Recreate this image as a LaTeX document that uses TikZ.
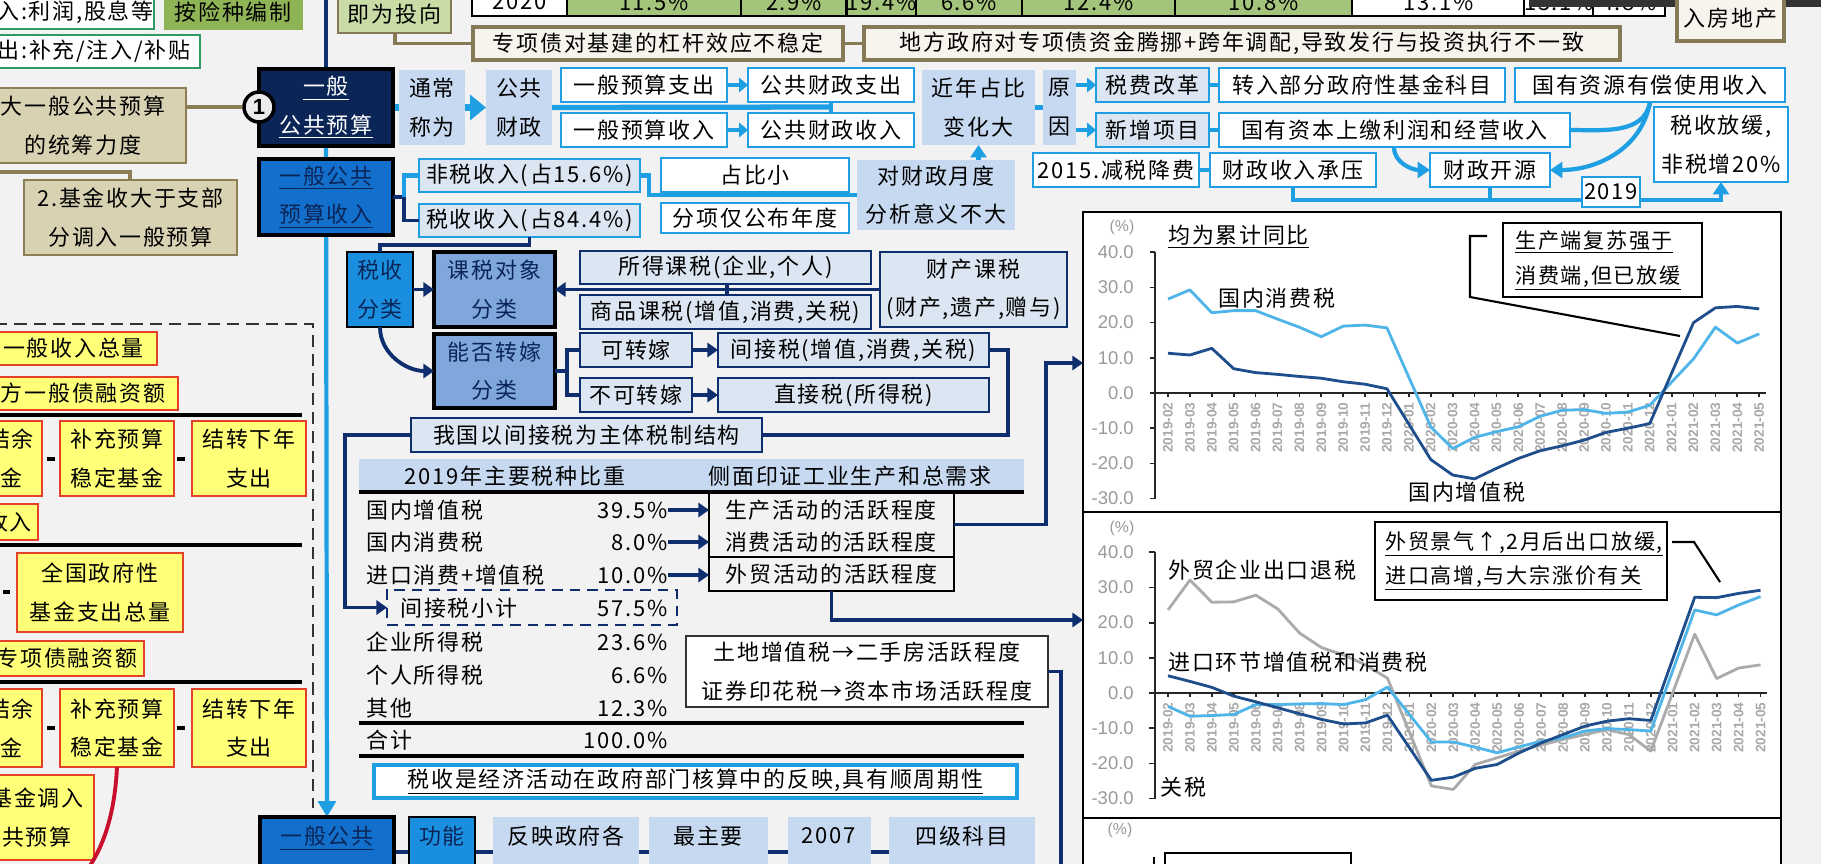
\documentclass[tikz,border=0pt]{standalone}
\usepackage{fontspec}
\setmainfont{Noto Sans CJK SC}[LetterSpace=8]
\newfontfamily\lat{Liberation Sans}
\usetikzlibrary{arrows.meta,calc}
\definecolor{navy}{HTML}{0B2557}
\definecolor{navl}{HTML}{0F2E6E}
\definecolor{lblue}{HTML}{1E9FE3}
\definecolor{lfill}{HTML}{C6D9F0}
\definecolor{pale}{HTML}{DCE6F2}
\definecolor{midblue}{HTML}{1270CC}
\definecolor{brblue}{HTML}{1A8FE0}
\definecolor{clsblue}{HTML}{7FA7DC}
\definecolor{yel}{HTML}{FFFF78}
\definecolor{yelred}{HTML}{E5402A}
\definecolor{tanf}{HTML}{D9D2B2}
\definecolor{tand}{HTML}{8C7F55}
\definecolor{olvd}{HTML}{857A55}
\definecolor{olvf}{HTML}{F6F4EC}
\definecolor{grnf}{HTML}{8FB456}
\definecolor{grnl}{HTML}{C9DCA6}
\definecolor{grnd}{HTML}{2E9B62}
\definecolor{bg}{HTML}{F2F2F2}
\definecolor{serdark}{HTML}{1F4E8C}
\definecolor{serlight}{HTML}{4FB4E8}
\definecolor{sergray}{HTML}{ABABAB}
\definecolor{axgray}{HTML}{9A9A9A}
\definecolor{redc}{HTML}{C8102E}
\definecolor{darkbar}{HTML}{333333}
\definecolor{cellgrn}{HTML}{A3C47A}
\pgfdeclarelayer{back}
\pgfdeclarelayer{mid}
\pgfsetlayers{back,mid,main}
\newcommand\Bx[7]{%
 \pgfmathsetmacro\bxw{(#5)-(#3)}%
 \pgfmathsetmacro\bxh{(#6)-(#4)}%
 \pgfmathsetmacro\bxcx{((#3)+(#5))/2}%
 \pgfmathsetmacro\bxcy{((#4)+(#6))/2}%
 \node[bx,#1,minimum width={\bxw*0.02cm},minimum height={\bxh*0.02cm}] (#2) at (\bxcx,\bxcy) {#7};}
\begin{document}
\begin{tikzpicture}[x=0.02cm,y=-0.02cm, font=\fontsize{12.5}{22}\selectfont,
 bx/.style={align=center,inner sep=0pt,outer sep=0pt},
 grn/.style={draw=grnd,line width=1.2pt,fill=white},
 gfill/.style={fill=grnf,draw=grnf},
 olvg/.style={fill=grnl,draw=olvd,line width=1.5pt},
 olv/.style={fill=olvf,draw=olvd,line width=1.8pt},
 cellw/.style={fill=white,draw=black,line width=1.2pt},
 cellg/.style={fill=cellgrn,draw=black,line width=1.2pt},
 navyb/.style={fill=navy,draw=black,line width=2pt,text=white},
 midb/.style={fill=midblue,draw=black,line width=2pt,text=navy},
 brb/.style={fill=brblue,draw=black,line width=1.5pt,text=navy},
 mbb/.style={fill=clsblue,draw=black,line width=2pt,text=navy},
 lbf/.style={fill=lfill},
 bl/.style={fill=white,draw=lblue,line width=1.4pt},
 blf/.style={fill=pale,draw=lblue,line width=1.4pt},
 tx/.style={fill=pale,draw=navl,line width=1.2pt},
 tanb/.style={fill=tanf,draw=tand,line width=1.4pt},
 ylw/.style={fill=yel,draw=yelred,line width=1.3pt},
 rbx/.style={draw=black,line width=1.2pt},
 thinb/.style={fill=white,draw=black!80,line width=0.8pt},
 cyc/.style={fill=white,draw=lblue,line width=1.8pt},
 dashb/.style={draw=navl,line width=1.5pt,dash pattern=on 6pt off 4pt},
 hdrs/.style={fill=lfill},
 frm/.style={fill=white,draw=black,line width=1.3pt},
 cbx/.style={fill=white,draw=black,line width=1.2pt},
 lbl/.style={draw=lblue,line width=2.4pt},
 lbarr/.style={draw=lblue,line width=2.4pt,-{Triangle[length=7pt,width=9pt]}},
 lbbig/.style={draw=lblue,line width=4pt,-{Triangle[length=9pt,width=14pt]}},
 lbsmall/.style={draw=lblue,line width=2pt,-{Triangle[length=5pt,width=8pt]}},
 nvl/.style={draw=navl,line width=2.2pt},
 navarr/.style={draw=navl,line width=2.2pt,-{Triangle[length=6pt,width=8pt]}},
 tanl/.style={draw=tand,line width=2pt},
 olvl/.style={draw=olvd,line width=2pt},
 ser/.style={line width=1.6pt,line join=round},
 ylab/.style={font=\lat\fontsize{10.5}{11}\selectfont,text=axgray,anchor=east,inner sep=0pt},
 tlab/.style={font=\lat\bfseries\fontsize{7.8}{8}\selectfont,text=axgray!85,rotate=90,anchor=east,inner sep=0pt},
 txt/.style={inner sep=0pt,anchor=west},
 cotxt/.style={inner sep=0pt,anchor=west,font=\fontsize{12}{20}\selectfont},
 ]
\useasboundingbox (0,0) rectangle (1821,863);
\begin{pgfonlayer}{back}
\fill[bg] (-20,-20) rectangle (1841,883);
\end{pgfonlayer}

% ---------------- charts
\Bx{frm}{ch1}{1083}{212}{1781}{512}{}
\Bx{frm}{ch2}{1083}{512}{1781}{818}{}
\Bx{frm}{ch3}{1083}{818}{1781}{900}{}

\begin{scope}[shift={(1168,393)},x=0.438cm,y=0.0704cm]
 \draw[black!85,line width=1pt] (-0.594,40) -- (-0.594,-30);
 \foreach \v in {40,30,...,-30} {\draw[black!85,line width=1pt] (-0.594,\v) -- ++(-0.25,0);
   \node[ylab] (ay\v) at (-1.55,\v) {\v.0};}
 \draw[black!85,line width=1pt] (-0.594,0) -- (27.3,0);
 \foreach \i in {0,...,27} \draw[black!85,line width=1pt] (\i,0) -- ++(0,-1.2);
 \foreach \lab [count=\i from 0] in {2019-02,2019-03,2019-04,2019-05,2019-06,2019-07,2019-08,2019-09,2019-10,2019-11,2019-12,2020-01,2020-02,2020-03,2020-04,2020-05,2020-06,2020-07,2020-08,2020-09,2020-10,2020-11,2020-12,2021-01,2021-02,2021-03,2021-04,2021-05}
   {\node[tlab] (at\i) at (\i,-2.6) {\lab};}
 \draw[ser,serlight] plot coordinates {(0,26.7) (1,29.3) (2,22.8) (3,23.4) (4,23.4) (5,21) (6,18.7) (7,16) (8,19) (9,19.3) (10,18.5) (12,-9.6) (13,-15.8) (14,-12.6) (15,-11) (16,-9.6) (17,-6.6) (18,-4.9) (19,-4.7) (20,-5.8) (21,-5.4) (22,-3.5) (24,9.7) (25,18.7) (26,14.2) (27,16.8)};
 \draw[ser,serdark] plot coordinates {(0,11.3) (1,10.8) (2,12.7) (3,6.9) (4,5.8) (5,5.3) (6,4.7) (7,4.2) (8,3.2) (9,2.5) (10,1.2) (12,-18.9) (13,-23.3) (14,-24.4) (15,-21.4) (16,-18.6) (17,-16.4) (18,-15) (19,-13.4) (20,-11.2) (21,-10) (22,-8.7) (24,20) (25,24.2) (26,24.6) (27,23.9)};
\end{scope}
\node[font=\lat\fontsize{9}{10}\selectfont,text=axgray,inner sep=0pt] (pc1) at (1122,227) {(\%)};
\node[txt] (t1) at (1168,237) {\underline{均为累计同比}};
\node[txt] (t2) at (1218,298) {国内消费税};
\node[txt] (t3) at (1408,492) {国内增值税};
\Bx{cbx}{co1}{1503}{223}{1702}{297}{}
\node[cotxt] (co1a) at (1515,242) {\underline{生产端复苏强于}};
\node[cotxt] (co1b) at (1515,278) {\underline{消费端,但已放缓}};
\coordinate (k1) at (1487,236); \coordinate (k2) at (1470,236);
\coordinate (k3) at (1470,297); \coordinate (k4) at (1680,336);
\draw[line width=1.2pt] (k1) -- (k2) -- (k3) -- (k4);

\begin{scope}[shift={(1168,693)},x=0.439cm,y=0.0704cm]
 \draw[black!85,line width=1pt] (-0.594,40) -- (-0.594,-30);
 \foreach \v in {40,30,...,-30} {\draw[black!85,line width=1pt] (-0.594,\v) -- ++(-0.25,0);
   \node[ylab] (by\v) at (-1.55,\v) {\v.0};}
 \draw[black!85,line width=1pt] (-0.594,0) -- (27.3,0);
 \foreach \i in {0,...,27} \draw[black!85,line width=1pt] (\i,0) -- ++(0,-1.2);
 \foreach \lab [count=\i from 0] in {2019-02,2019-03,2019-04,2019-05,2019-06,2019-07,2019-08,2019-09,2019-10,2019-11,2019-12,2020-01,2020-02,2020-03,2020-04,2020-05,2020-06,2020-07,2020-08,2020-09,2020-10,2020-11,2020-12,2021-01,2021-02,2021-03,2021-04,2021-05}
   {\node[tlab] (bt\i) at (\i,-2.6) {\lab};}
 \draw[ser,sergray] plot coordinates {(0,23.6) (1,32.1) (2,25.8) (3,25.9) (4,27.8) (5,23.9) (6,17) (7,12.9) (8,10.8) (9,8) (10,4.2) (12,-26.4) (13,-27.4) (14,-20.3) (15,-18.4) (16,-16.5) (17,-14.8) (18,-13.2) (19,-11.8) (20,-10.4) (21,-11.8) (22,-16.5) (24,16.7) (25,4.1) (26,7.1) (27,8)};
 \draw[ser,serlight] plot coordinates {(0,-3.8) (1,-6.6) (2,-6.4) (3,-6.1) (4,-3.3) (5,-3.3) (6,-3.1) (7,-3) (8,-3.3) (9,-1.9) (10,1.7) (12,-13.9) (13,-13.9) (14,-15.4) (15,-17) (16,-15.3) (17,-13.7) (18,-12.7) (19,-10.8) (20,-10.1) (21,-10.4) (22,-10.8) (24,23.6) (25,22.2) (26,25) (27,27.4)};
 \draw[ser,serdark] plot coordinates {(0,4.9) (1,3.3) (2,1.6) (3,-0.9) (4,-2.5) (5,-4.2) (6,-5.9) (7,-7.5) (8,-8.8) (9,-8.5) (10,-6.3) (12,-24.8) (13,-23.9) (14,-21.4) (15,-20.3) (16,-17) (17,-14.2) (18,-11.8) (19,-9.4) (20,-8) (21,-7.3) (22,-7.8) (24,27.2) (25,27.1) (26,28.3) (27,29.2)};
\end{scope}
\node[font=\lat\fontsize{9}{10}\selectfont,text=axgray,inner sep=0pt] (pc2) at (1122,528) {(\%)};
\node[txt] (t4) at (1168,570) {外贸企业出口退税};
\node[txt] (t5) at (1168,662) {进口环节增值税和消费税};
\node[txt] (t6) at (1160,787) {关税};
\Bx{cbx}{co2}{1375}{522}{1667}{600}{}
\node[cotxt] (co2a) at (1385,544) {\underline{外贸景气↑,2月后出口放缓,}};
\node[cotxt] (co2b) at (1385,578) {\underline{进口高增,与大宗涨价有关}};
\coordinate (m1) at (1672,542); \coordinate (m2) at (1694,542); \coordinate (m3) at (1720,582);
\draw[line width=1.2pt] (m1) -- (m2) -- (m3);
\node[font=\lat\fontsize{9}{10}\selectfont,text=axgray,inner sep=0pt] (pc3) at (1120,830) {(\%)};
\Bx{cbx}{co3}{1165}{853}{1351}{900}{}
\draw[line width=1pt] (1154,857) -- (1154,866);

% ---------------- top area
\Bx{grn}{inA}{-2}{-4}{153}{29}{入:利润,股息等}
\Bx{gfill}{xian}{164}{-4}{302}{29}{按险种编制}
\Bx{grn}{chuB}{-12}{35}{200}{68}{出:补充/注入/补贴}
\Bx{olvg}{tou}{338}{-4}{451}{33}{即为投向}
\Bx{cellw}{c1}{472}{-12}{567}{16}{2020}
\Bx{cellg}{c2}{567}{-12}{741}{16}{11.5\%}
\Bx{cellg}{c3}{741}{-12}{847}{16}{2.9\%}
\Bx{cellg}{c4}{847}{-12}{916}{16}{19.4\%}
\Bx{cellg}{c5}{916}{-12}{1022}{16}{6.6\%}
\Bx{cellg}{c6}{1022}{-12}{1175}{16}{12.4\%}
\Bx{cellg}{c7}{1175}{-12}{1352}{16}{10.8\%}
\Bx{cellw}{c8}{1352}{-12}{1525}{16}{13.1\%}
\Bx{cellw}{c9}{1525}{-12}{1593}{16}{13.1\%}
\Bx{cellw}{c10}{1593}{-12}{1665}{16}{4.8\%}
\fill[darkbar] (1529,-5) rectangle (1830,7);
\Bx{olv}{zx1}{473}{27}{843}{60}{专项债对基建的杠杆效应不稳定}
\Bx{olv}{zx2}{864}{27}{1620}{60}{地方政府对专项债资金腾挪+跨年调配,导致发行与投资执行不一致}
\Bx{olv}{fdc}{1677}{-4}{1784}{41}{入房地产}
\draw[olvl] ($(tou.south west)+(57,0)$) |- (zx1.west);
\draw[olvl] (zx1.east) -- (zx2.west);

% ---------------- left panel
\Bx{tanb}{tan1}{-20}{88}{186}{163}{大一般公共预算\\的统筹力度}
\Bx{tanb}{tan2}{24}{180}{237}{255}{2.基金收大于支部\\分调入一般预算}
\coordinate (tl0) at (-5,172);
\draw[tanl] (tl0) -| ($(tan2.north west)+(106,0)$);
\Bx{ylw}{y1}{-10}{332}{157}{365}{一般收入总量}
\Bx{ylw}{y2}{-12}{377}{178}{410}{方一般债融资额}
\Bx{ylw}{y3}{-20}{421}{42}{496}{结余\\金}
\Bx{ylw}{y4}{60}{421}{174}{496}{补充预算\\稳定基金}
\Bx{ylw}{y5}{192}{421}{306}{496}{结转下年\\支出}
\Bx{ylw}{y6}{-20}{504}{38}{540}{收入}
\Bx{ylw}{y7}{17}{553}{183}{632}{全国政府性\\基金支出总量}
\Bx{ylw}{y8}{-10}{641}{144}{676}{专项债融资额}
\Bx{ylw}{y9}{-20}{689}{42}{767}{结余\\金}
\Bx{ylw}{y10}{60}{689}{174}{767}{补充预算\\稳定基金}
\Bx{ylw}{y11}{192}{689}{306}{767}{结转下年\\支出}
\Bx{ylw}{y12}{-20}{775}{94}{860}{基金调入\\共预算}
\foreach \a/\b/\yy in {47/55/459,177/185/459,3/10/592,47/55/728,177/185/728}
  \draw[line width=2pt] (\a,\yy) -- (\b,\yy);
\foreach \yy in {415,545,682}
  \draw[line width=1.8pt] (-5,\yy) -- (302,\yy);
\draw[black!80,line width=1.2pt,dash pattern=on 7pt off 4pt] (-5,324) -- (313,324) -- (313,808);
\draw[redc,line width=2.2pt] (y10.south) .. controls (115,810) and (105,845) .. (87,870);

% ---------------- budget column
\Bx{navyb}{gb}{259}{69}{393}{146}{\underline{一般}\\\underline{公共预算}}
\node[circle,draw=black,line width=2pt,fill=black!8,inner sep=0pt,minimum size={30*0.02cm}] (one) at (259,107) {\lat\bfseries 1};
\draw[tanl] (one.west) -- (one.west -| tan1.east);
\Bx{lbf}{tc}{399}{70}{465}{145}{通常\\称为}
\Bx{lbf}{ggcz}{486}{70}{552}{145}{公共\\财政}
\Bx{bl}{ysz}{561}{68}{727}{102}{一般预算支出}
\Bx{bl}{ysr}{561}{113}{727}{147}{一般预算收入}
\Bx{bl}{czz}{748}{68}{914}{102}{公共财政支出}
\Bx{bl}{czr}{748}{113}{914}{147}{公共财政收入}
\Bx{lbf}{jn}{922}{70}{1035}{145}{近年占比\\变化大}
\Bx{lbf}{yy}{1043}{70}{1076}{145}{原\\因}
\Bx{blf}{sfgg}{1096}{68}{1209}{102}{税费改革}
\Bx{blf}{xzxm}{1096}{113}{1209}{147}{新增项目}
\Bx{bl}{zrbf}{1219}{68}{1505}{102}{转入部分政府性基金科目}
\Bx{bl}{gyzy}{1515}{68}{1785}{102}{国有资源有偿使用收入}
\Bx{bl}{gyzb}{1219}{113}{1570}{147}{国有资本上缴利润和经营收入}
\Bx{bl}{ssfh}{1654}{107}{1788}{182}{税收放缓,\\非税增20\%}
\Bx{bl}{jsjf}{1033}{153}{1199}{187}{2015.减税降费}
\Bx{bl}{czsr}{1210}{153}{1376}{187}{财政收入承压}
\Bx{bl}{czky}{1430}{153}{1550}{187}{财政开源}
\Bx{bl}{y2019}{1582}{177}{1640}{207}{2019}
\Bx{lbf}{dcz}{857}{160}{1015}{230}{对财政月度\\分析意义不大}
\Bx{bl}{zbx}{661}{158}{849}{192}{占比小}
\Bx{bl}{fxj}{661}{203}{849}{233}{分项仅公布年度}
\Bx{blf}{fss}{419}{159}{640}{192}{非税收入(占15.6\%)}
\Bx{blf}{ssr}{419}{204}{640}{237}{税收收入(占84.4\%)}
\Bx{midb}{gbsr}{259}{159}{393}{235}{\underline{一般公共}\\\underline{预算收入}}

\coordinate (topn) at (326,-6);
\begin{pgfonlayer}{mid}
\draw[draw=navl,line width=2.2pt] (topn) -- (gb.north);
\draw[lbbig] (gb.east) -- (ggcz.west);
\end{pgfonlayer}

\coordinate (lend) at (831,107);
\draw[draw=lblue,line width=3pt] (ggcz.east) -- (lend);
\draw[draw=lblue,line width=2pt] ($(lend)+(0,-6)$) -- ($(lend)+(0,6)$);
\draw[lbsmall] (ysz.east) -- (czz.west);
\draw[lbsmall] (ysr.east) -- (czr.west);
\draw[draw=lblue,line width=3pt] (jn.east) -- (yy.west);
\draw[lbsmall] (yy.east |- sfgg.west) -- (sfgg.west);
\draw[lbsmall] (yy.east |- xzxm.west) -- (xzxm.west);
\draw[lbl] (sfgg.east) -- (zrbf.west);
\draw[lbl] (xzxm.east) -- (gyzb.west);
\draw[lbl] (jsjf.east) -- (czsr.west);
\draw[lbarr] ($(gyzb.south west)+(175,0)$) to[out=-90,in=180] (czky.west);
\draw[lbl] (gyzy.south) to[out=-100,in=0] (gyzb.east);
\draw[lbarr] (gyzy.south) to[out=-100,in=0] (czky.east);
\draw[lbl] (czsr.south) |- ($(y2019.west)+(0,8)$);
\draw[lbl] (czky.south) -- ++(0,13);
\draw[lbarr] ($(y2019.east)+(0,8)$) -| (ssfh.south);
\draw[lbarr] (jn.south |- dcz.north) -- (jn.south);
\draw[lbl] (fss.east) -- ++(9,0) |- (dcz.west);
\draw[nvl] (gbsr.east) -- ++(11,0) coordinate (br1) |- (ssr.west);
\draw[lbl] (br1) |- (fss.west);

% ---------------- tax classification
\Bx{brb}{ssfl}{347}{252}{413}{327}{税收\\分类}
\Bx{mbb}{ksdx}{434}{252}{555}{327}{课税对象\\分类}
\Bx{tx}{sdks}{580}{251}{871}{284}{所得课税(企业,个人)}
\Bx{tx}{spks}{580}{295}{871}{329}{商品课税(增值,消费,关税)}
\Bx{tx}{ccks}{880}{252}{1067}{327}{财产课税\\(财产,遗产,赠与)}
\Bx{mbb}{nfzj}{434}{334}{555}{408}{能否转嫁\\分类}
\Bx{tx}{kzj}{580}{333}{692}{367}{可转嫁}
\Bx{tx}{bkzj}{580}{378}{692}{412}{不可转嫁}
\Bx{tx}{jjs}{718}{333}{989}{367}{间接税(增值,消费,关税)}
\Bx{tx}{zjs}{718}{378}{989}{412}{直接税(所得税)}
\Bx{tx}{wgyj}{411}{418}{762}{452}{我国以间接税为主体税制结构}
\draw[nvl] (ssr.south) -- ++(0,8) -| (ssfl.north);
\draw[navarr] (ssfl.east) -- (ksdx.west);
\draw[navarr] (ccks.west) -- (ksdx.east);
\draw[nvl] ($(sdks.south west)+(147,0)$) -- ($(spks.north west)+(147,0)$);
\draw[navarr] (ssfl.south) to[out=-90,in=180] (nfzj.west);
\draw[nvl] (nfzj.east) -- ++(12,0) coordinate (br2) |- (kzj.west);
\draw[nvl] (br2) |- (bkzj.west);
\draw[navarr] (kzj.east) -- (jjs.west);
\draw[navarr] (bkzj.east) -- (zjs.west);
\draw[nvl] (jjs.east) -- ++(19,0) |- (wgyj.east);

% ---------------- table
\Bx{hdrs}{hdr}{359}{459}{1024}{492}{}
\node[inner sep=0pt] (h1) at (515,476) {2019年主要税种比重};
\node[inner sep=0pt] (h2) at (850,476) {侧面印证工业生产和总需求};
\draw[line width=2pt] (359,492) -- (1024,492);
\draw[line width=2pt] (359,723) -- (1024,723);
\draw[line width=2pt] (359,756) -- (1024,756);
\Bx{dashb}{jjxj}{387}{590}{677}{625}{}
\Bx{rbx}{scb}{709}{492}{954}{557}{}
\Bx{rbx}{wm}{709}{557}{954}{591}{外贸活动的活跃程度}
\node[inner sep=0pt] (sc1) at (831,510) {生产活动的活跃程度};
\node[inner sep=0pt] (sc2) at (831,542) {消费活动的活跃程度};
\foreach \nm/\lab/\val/\yy in {r1/国内增值税/39.5/510, r2/国内消费税/8.0/542, r3/进口消费+增值税/10.0/575, r5/企业所得税/23.6/642, r6/个人所得税/6.6/675, r7/其他/12.3/708, r8/合计/100.0/740}
 {\node[txt] (\nm l) at (366,\yy) {\lab};
  \node[inner sep=0pt,anchor=east] (\nm v) at (668,\yy) {\val\%};}
\node[txt] (r4l) at (400,608) {间接税小计};
\node[inner sep=0pt,anchor=east] (r4v) at (668,608) {57.5\%};
\draw[navarr] (r1v.east) -- (r1v.east -| scb.west);
\draw[navarr] (r2v.east) -- (r2v.east -| scb.west);
\draw[navarr] (r3v.east) -- (r3v.east -| wm.west);
\draw[navarr] (wgyj.west) -- ++(-66,0) |- (jjxj.west);
\draw[navarr] (scb.east) -- ++(92,0) |- ($(ch1.north west)+(0,151)$);
\draw[navarr] (wm.south) |- ($(ch2.north west)+(0,108)$);
\Bx{thinb}{tdz}{686}{636}{1048}{707}{土地增值税→二手房活跃程度\\证券印花税→资本市场活跃程度}
\coordinate (tdend) at (1061,875);
\draw[nvl] (tdz.east) -| (tdend);
\Bx{cyc}{sscy}{374}{765}{1017}{798}{\underline{税收是经济活动在政府部门核算中的反映,具有顺周期性}}

% ---------------- bottom row
\Bx{midb}{gbgg}{260}{817}{394}{900}{}
\Bx{brb}{gn}{409}{817}{475}{900}{}
\Bx{lbf}{fy}{493}{817}{639}{900}{}
\Bx{lbf}{zzy}{649}{817}{768}{900}{}
\Bx{lbf}{y2007}{788}{817}{871}{900}{}
\Bx{lbf}{sjkm}{889}{817}{1035}{900}{}
\begin{pgfonlayer}{mid}
\draw[nvl] (gbgg.east |- 0,852) -- (sjkm.west |- 0,852);
\draw[draw=lblue,line width=2.4pt,-{Triangle[length=9pt,width=10pt]}] (gb.south) -- (gbgg.north);
\end{pgfonlayer}
\node[inner sep=0pt,text=navy] (b1) at (327,838) {\underline{一般公共}};
\node[inner sep=0pt,text=navy] (b2) at (442,836) {功能};
\node[inner sep=0pt] (b3) at (566,836) {反映政府各};
\node[inner sep=0pt] (b4) at (708,836) {最主要};
\node[inner sep=0pt] (b5) at (829,836) {2007};
\node[inner sep=0pt] (b6) at (962,836) {四级科目};
\end{tikzpicture}
\end{document}
